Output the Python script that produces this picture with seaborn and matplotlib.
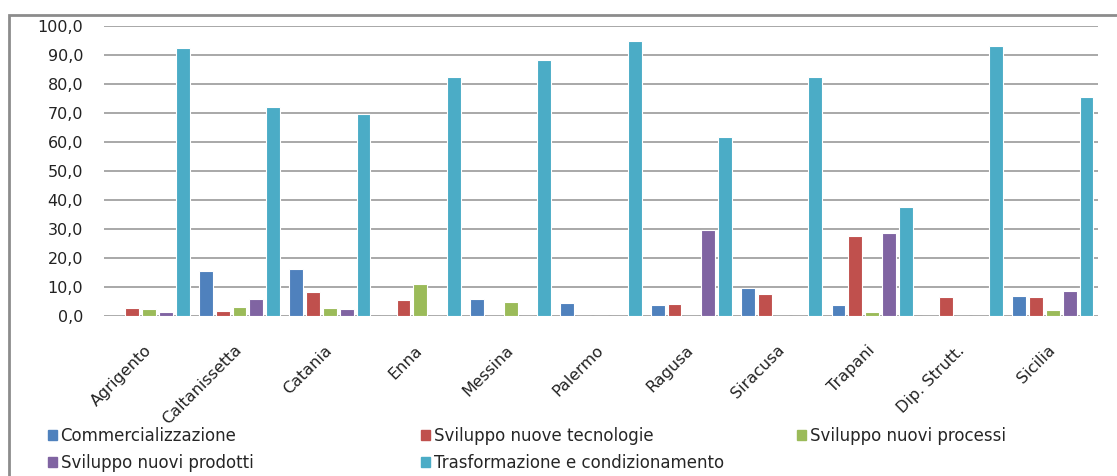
import pandas as pd
import numpy as np
import matplotlib
matplotlib.use("Agg")
import matplotlib.pyplot as plt
import matplotlib.patches as mpatches
from matplotlib.ticker import FuncFormatter
import seaborn as sns

province = ["Agrigento", "Caltanissetta", "Catania", "Enna", "Messina", "Palermo",
            "Ragusa", "Siracusa", "Trapani", "Dip. Strutt.", "Sicilia"]
voci = ["Commercializzazione", "Sviluppo nuove tecnologie", "Sviluppo nuovi processi",
        "Sviluppo nuovi prodotti", "Trasformazione e condizionamento"]

commercializzazione = [0.0, 15.6, 16.1, 0.0, 5.9, 4.6, 3.8, 9.7, 3.8, 0.0, 6.9]
nuove_tecnologie = [2.8, 1.8, 8.2, 5.4, 0.0, 0.0, 4.1, 7.7, 27.6, 6.4, 6.4]
nuovi_processi = [2.3, 3.2, 2.6, 11.1, 4.9, 0.0, 0.0, 0.0, 1.5, 0.0, 2.0]
nuovi_prodotti = [1.4, 5.7, 2.3, 0.0, 0.0, 0.0, 29.7, 0.0, 28.5, 0.0, 8.6]
trasformazione = [92.5, 72.2, 69.7, 82.4, 88.2, 94.8, 61.6, 82.4, 37.7, 93.1, 75.4]

colori = ["#4F81BD", "#C0504D", "#9BBB59", "#8064A2", "#4BACC6"]

serie = [commercializzazione, nuove_tecnologie, nuovi_processi, nuovi_prodotti, trasformazione]
rows = []
for voce, valori in zip(voci, serie):
    for prov, v in zip(province, valori):
        rows.append({"provincia": prov, "voce": voce, "valore": v})
df = pd.DataFrame(rows)

sns.set_style("white")
plt.rcParams["font.family"] = ["DejaVu Sans"]

fig = plt.figure(figsize=(11.17, 4.76), dpi=100)
ax = fig.add_axes([104 / 1117, 1 - 316 / 476, (1098 - 104) / 1117, (316 - 26) / 476])

sns.barplot(data=df, x="provincia", y="valore", hue="voce", hue_order=voci,
            order=province, palette=colori, saturation=1, width=0.93, gap=0.18,
            edgecolor="white", linewidth=0.8, legend=False, ax=ax)

ax.set_ylim(0, 100)
ax.set_xlim(-0.5, len(province) - 0.5)
ax.set_yticks(np.arange(0, 101, 10))
ax.yaxis.set_major_formatter(FuncFormatter(lambda v, p: f"{v:.1f}".replace(".", ",")))
ax.grid(axis="y", color="#9a9a9a", linewidth=1.2)
ax.set_axisbelow(True)
for s in ax.spines.values():
    s.set_visible(False)
ax.set_xlabel("")
ax.set_ylabel("")
ax.tick_params(axis="both", length=0, labelsize=11.5, colors="#222222")
ax.tick_params(axis="y", pad=15)
plt.setp(ax.get_xticklabels(), rotation=45, ha="right", va="center",
         rotation_mode="anchor")
ax.tick_params(axis="x", pad=23)

# outer chart border
fig.patches.append(mpatches.Rectangle((9 / 1117, -0.1), 1.2, 1 - 15 / 476 + 0.1,
                                      transform=fig.transFigure, fill=False,
                                      edgecolor="#8c8c8c", linewidth=2))

handles = [mpatches.Patch(color=c, label=v) for c, v in zip(colori, voci)]
col_x = [48 / 1117, 421 / 1117, 797 / 1117]
columns = [[0, 3], [1, 4], [2]]
for x, idx in zip(col_x, columns):
    fig.legend(handles=[handles[i] for i in idx], loc="upper left",
               bbox_to_anchor=(x, 1 - 427 / 476), frameon=False, fontsize=12,
               handlelength=0.55, handleheight=0.55, handletextpad=0.2,
               labelspacing=0.55, borderpad=0, borderaxespad=0)

fig.savefig("out.png", dpi=100)
